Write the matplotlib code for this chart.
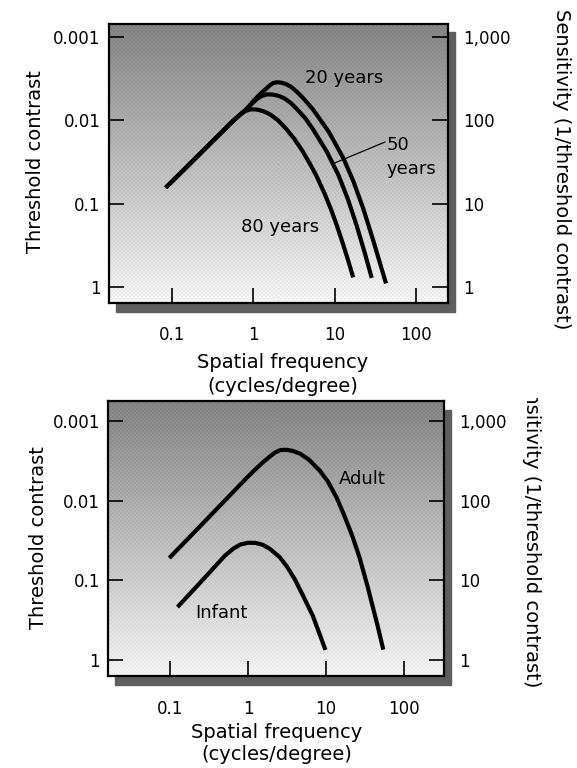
import numpy as np
import matplotlib
matplotlib.use("Agg")
import matplotlib.pyplot as plt
from matplotlib.patches import Rectangle
from matplotlib.ticker import NullLocator
from matplotlib.transforms import Bbox, TransformedBbox

W, H = 577, 768

# contrast sensitivity (1/threshold) vs spatial frequency
freq_20 = [0.083, 0.22, 0.56, 0.80, 1.1, 1.25, 1.4, 1.6, 1.75, 1.93, 2.15, 2.5, 2.9, 3.4, 4.2,
           5.46, 8.5, 12.8, 17, 22.5, 30, 42.9]
sens_20 = [15.5, 39.7, 98, 133, 188, 212, 234, 263, 279, 285, 283, 272, 251, 221, 179,
           133, 72, 35, 18.5, 8.7, 3.55, 1.1]
freq_50 = [0.083, 0.22, 0.56, 0.80, 0.95, 1.1, 1.25, 1.46, 1.7, 2.0, 2.4, 2.9, 3.5, 4.4,
           5.46, 8.0, 11.1, 14.5, 18.7, 23.5, 28.6]
sens_50 = [15.5, 39.7, 98, 133, 157, 179, 194, 204, 203, 197, 183, 160, 133, 104,
           76.7, 41.9, 22.1, 11.4, 5.4, 2.55, 1.28]
freq_80 = [0.083, 0.22, 0.56, 0.70, 0.80, 0.90, 1.0, 1.15, 1.35, 1.6, 2.0, 2.5, 3.2, 4.0,
           5.0, 6.0, 7.5, 9.0, 10.6, 12.5, 14.5, 16.9]
sens_80 = [15.5, 39.7, 98, 119, 129, 134, 135, 133, 127, 117.5, 100, 79.6, 59.3, 42.9,
           29.6, 21.2, 13.2, 8.55, 5.5, 3.4, 2.15, 1.3]

freq_adult = [0.098, 0.25, 0.643, 1.0, 1.3, 1.6, 1.9, 2.2, 2.6, 3.1, 3.7, 4.6, 6.0, 8.2,
              10.5, 13.5, 17, 21.9, 27, 34.1, 40, 45.7, 54]
sens_adult = [19.1, 49, 128, 200, 257, 309, 355, 398, 429, 432, 419, 388, 326, 240,
              174, 111, 66, 35, 18.9, 8.3, 4.5, 2.7, 1.36]
freq_infant = [0.125, 0.3, 0.5, 0.65, 0.8, 1.0, 1.25, 1.55, 1.9, 2.54, 3.2, 4.0, 5.0,
               6.76, 8.3, 9.8]
sens_infant = [4.64, 11.7, 20.2, 25.1, 28.2, 29.6, 29.5, 27.9, 24.9, 19.6, 14.6, 10.2, 6.6,
               3.6, 2.1, 1.35]

freq_ticks = [0.1, 1, 10, 100]
freq_labels = ["0.1", "1", "10", "100"]
thr_ticks = [0.001, 0.01, 0.1, 1]
thr_labels = ["0.001", "0.01", "0.1", "1"]
sens_ticks = [1000, 100, 10, 1]
sens_labels = ["1,000", "100", "10", "1"]

fig = plt.figure(figsize=(W / 100, H / 100), dpi=100)


def rect(x0, y0, x1, y1):
    # pixel box, origin top-left -> figure fraction rect
    return [x0 / W, 1 - y1 / H, (x1 - x0) / W, (y1 - y0) / H]


def panel(box, xlim, thr_lim):
    x0, y0, x1, y1 = box
    fig.patches.append(Rectangle(((x0 + 7) / W, 1 - (y1 + 9) / H), (x1 - x0) / W, (y1 - y0) / H,
                                 transform=fig.transFigure, color="#5e5e5e", zorder=0))
    bg = fig.add_axes(rect(*box), zorder=1)
    rows, cols = int(y1 - y0), int(x1 - x0)
    g = np.linspace(0.51, 0.95, rows)[:, None] * np.ones((1, cols))
    ii, jj = np.indices((rows, cols))
    g = g + 0.04 * (((ii // 2 + jj // 2) % 2) - 0.5)
    bg.imshow(g, cmap="gray", vmin=0, vmax=1, aspect="auto", interpolation="nearest")
    bg.axis("off")

    ax = fig.add_axes(rect(*box), zorder=2)
    ax.patch.set_alpha(0)
    ax.set_xscale("log")
    ax.set_yscale("log")
    ax.set_xlim(xlim)
    ax.set_ylim(thr_lim[1], thr_lim[0])
    ax.set_xticks(freq_ticks, freq_labels)
    ax.set_yticks(thr_ticks, thr_labels)
    ax.xaxis.set_minor_locator(NullLocator())
    ax.yaxis.set_minor_locator(NullLocator())
    ax.tick_params(axis="x", direction="in", length=11, width=1.2, pad=17, labelsize=12)
    ax.tick_params(axis="y", direction="in", length=11, width=1.2, pad=6, labelsize=12)
    for s in ax.spines.values():
        s.set_linewidth(1.6)

    axr = ax.twinx()
    axr.set_yscale("log")
    axr.set_ylim(1 / thr_lim[1], 1 / thr_lim[0])
    axr.set_yticks(sens_ticks, sens_labels)
    axr.yaxis.set_minor_locator(NullLocator())
    axr.tick_params(axis="y", direction="in", length=11, width=1.2, pad=11, labelsize=12)
    for s in axr.spines.values():
        s.set_visible(False)
    return ax, axr


line_kw = dict(color="black", lw=3, solid_capstyle="butt", solid_joinstyle="round")

# top panel
ax1, ax1r = panel((109, 23.5, 447.5, 302.7), (10 ** -1.78, 10 ** 2.39), (10 ** -3.16, 10 ** 0.19))
ax1r.plot(freq_20, sens_20, **line_kw)
ax1r.plot(freq_50, sens_50, **line_kw)
ax1r.plot(freq_80, sens_80, **line_kw)
ax1r.annotate("", xy=(9.5, 30), xytext=(385, H - 142), textcoords="figure pixels",
              arrowprops=dict(arrowstyle="-", lw=0.9, color="black", shrinkA=0, shrinkB=0))

# bottom panel
ax2, ax2r = panel((108.3, 400.7, 444, 676.3), (10 ** -1.79, 10 ** 2.51), (10 ** -3.25, 10 ** 0.2))
ax2r.plot(freq_adult, sens_adult, **line_kw)
ax2r.plot(freq_infant, sens_infant, **line_kw)


def ftext(x, y, s, **kw):
    return fig.text(x / W, 1 - y / H, s, ha=kw.pop("ha", "center"), va=kw.pop("va", "center"), **kw)


# curve labels
ftext(344, 78, "20 years", fontsize=13)
ftext(387, 145, "50", fontsize=13, ha="left")
ftext(387, 169, "years", fontsize=13, ha="left")
ftext(280, 227, "80 years", fontsize=13)
ftext(362, 479, "Adult", fontsize=13)
ftext(221, 613, "Infant", fontsize=13)

# axis titles
ftext(36, 161.5, "Threshold contrast", fontsize=14, rotation=90)
ftext(39, 538, "Threshold contrast", fontsize=14, rotation=90)
ftext(282.5, 363, "Spatial frequency", fontsize=14)
ftext(282.5, 387, "(cycles/degree)", fontsize=14)
ftext(277, 733, "Spatial frequency", fontsize=14)
ftext(277, 755, "(cycles/degree)", fontsize=14)

ftext(561, 169, "Sensitivity (1/threshold contrast)", fontsize=14, rotation=270)
t = ftext(532, 527, "Sensitivity (1/threshold contrast)", fontsize=14, rotation=270)
t.set_clip_box(TransformedBbox(Bbox([[0, 0], [1, 1 - 398 / H]]), fig.transFigure))
t.set_clip_on(True)

fig.savefig("out.png", dpi=100)
